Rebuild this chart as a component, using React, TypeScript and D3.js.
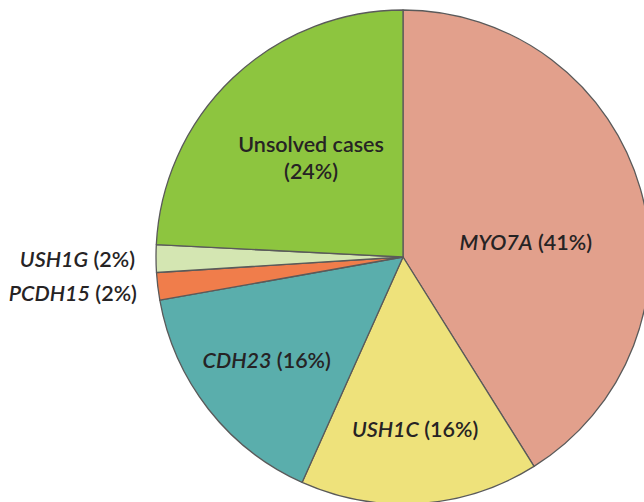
import React, { useRef, useEffect } from "react";
import * as d3 from "d3";

// slices, clockwise from 12 o'clock
const genes = ["MYO7A", "USH1C", "CDH23", "PCDH15", "USH1G", "Unsolved cases"];
const shares = [41.1, 15.6, 15.5, 1.8, 1.8, 24.2];
const pctLabels = ["41%", "16%", "16%", "2%", "2%", "24%"];
const colors = ["#e2a08c", "#eee27b", "#5aaeac", "#f07d4b", "#d4e6b2", "#8dc53f"];

// label placement: inside at fraction k of radius, or outside (right aligned)
const labelPos = [
  { k: 0.5, dx: 4, dy: 22, outside: false },
  { k: 0.71, dx: 0, dy: 0, outside: false },
  { k: 0.7, dx: 0, dy: 0, outside: false },
  { k: 0, dx: 0, dy: 7, outside: true },
  { k: 0, dx: 0, dy: 3, outside: true },
  { k: 0.54, dx: 0, dy: -3, outside: false },
];

const App = () => {
  const ref = useRef<SVGSVGElement | null>(null);
  const width = 644;
  const height = 502;

  useEffect(() => {
    if (!ref.current) return;
    const svg = d3.select(ref.current);
    svg.selectAll("*").remove();

    const cx = 403;
    const cy = 257;
    const r = 247;

    const data = genes.map((g, i) => ({ gene: g, value: shares[i], pct: pctLabels[i], i }));

    const pie = d3
      .pie<any>()
      .value((d) => d.value)
      .sort(null)
      .startAngle(0)
      .endAngle(2 * Math.PI);
    const arcs = pie(data);

    const arc = d3.arc<any>().innerRadius(0).outerRadius(r);

    const g = svg.append("g").attr("transform", `translate(${cx},${cy})`);

    g.selectAll("path")
      .data(arcs)
      .enter()
      .append("path")
      .attr("d", arc)
      .attr("fill", (d: any) => colors[d.data.i])
      .attr("stroke", "#5a5a5a")
      .attr("stroke-width", 1.3)
      .attr("stroke-linejoin", "round");

    const font = "Lato, 'Open Sans', sans-serif";
    const fs = 21.5;

    arcs.forEach((a: any) => {
      const p = labelPos[a.data.i];
      const mid = (a.startAngle + a.endAngle) / 2;
      if (p.outside) {
        const R = r + 21;
        const x = Math.sin(mid) * R;
        const y = -Math.cos(mid) * R + p.dy;
        const t = g
          .append("text")
          .attr("x", x)
          .attr("y", y)
          .attr("text-anchor", "end")
          .attr("dominant-baseline", "middle")
          .style("font-family", font)
          .style("font-size", fs + "px")
          .style("font-weight", 600)
          .attr("fill", "#262324");
        t.append("tspan").style("font-style", "italic").text(a.data.gene);
        t.append("tspan").text(" (" + a.data.pct + ")");
        return;
      }
      const R = r * p.k;
      const x = Math.sin(mid) * R + p.dx;
      const y = -Math.cos(mid) * R + p.dy;
      const t = g
        .append("text")
        .attr("x", x)
        .attr("y", y)
        .attr("text-anchor", "middle")
        .style("font-family", font)
        .style("font-size", fs + "px")
        .style("font-weight", 600)
        .attr("fill", "#262324");
      if (a.data.gene === "Unsolved cases") {
        t.append("tspan").attr("x", x).attr("dy", "-0.25em").text(a.data.gene);
        t.append("tspan").attr("x", x).attr("dy", "1.25em").text("(" + a.data.pct + ")");
      } else {
        t.attr("dominant-baseline", "middle");
        t.append("tspan").style("font-style", "italic").text(a.data.gene);
        t.append("tspan").text(" (" + a.data.pct + ")");
      }
    });
  }, []);

  return (
    <div style={{ position: "absolute", left: 0, top: 0, width, height, overflow: "hidden", background: "#fff" }}>
      <svg ref={ref} width={width} height={height} />
    </div>
  );
};

export default App;
